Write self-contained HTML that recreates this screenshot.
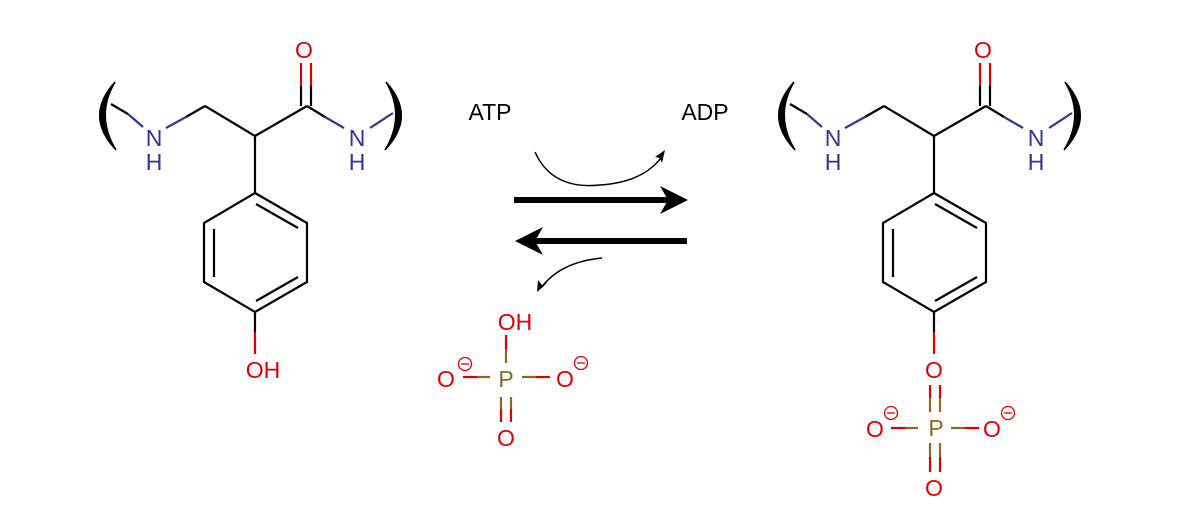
<!DOCTYPE html>
<html><head><meta charset="utf-8"><style>
html,body{margin:0;padding:0;background:#fff;}
svg{display:block;}
text{font-family:"Liberation Sans",Arial,sans-serif;font-size:23px;text-anchor:middle;dominant-baseline:central;}
.b{fill:#333399}.r{fill:#e00000}.p{fill:#8a6a20}.k{fill:#000}
</style></head><body>
<svg width="1185" height="516" viewBox="0 0 1185 516" xmlns="http://www.w3.org/2000/svg">
<defs>
<g id="mol" stroke-width="2.2" fill="none" stroke-linecap="butt">
  <path d="M115,82 Q84,116 116,150 Q95,116 115,82 Z" fill="#000" stroke="#000" stroke-width="1.5"/>
  <path d="M386,82 Q417,116 385,150 Q406,116 386,82 Z" fill="#000" stroke="#000" stroke-width="1.5"/>
  <line x1="111" y1="104" x2="128" y2="114" stroke="#000"/>
  <line x1="128" y1="114" x2="143" y2="127" stroke="#333399"/>
  <line x1="166" y1="128" x2="186" y2="117" stroke="#333399"/>
  <line x1="186" y1="117" x2="205" y2="106" stroke="#000"/>
  <line x1="205" y1="106" x2="255" y2="136" stroke="#000"/>
  <line x1="255" y1="136" x2="307" y2="106" stroke="#000"/>
  <line x1="301" y1="106" x2="301" y2="86" stroke="#000"/>
  <line x1="301" y1="86" x2="301" y2="63" stroke="#e00000"/>
  <line x1="311" y1="106" x2="311" y2="86" stroke="#000"/>
  <line x1="311" y1="86" x2="311" y2="63" stroke="#e00000"/>
  <line x1="307" y1="106" x2="325" y2="117" stroke="#000"/>
  <line x1="325" y1="117" x2="344" y2="128" stroke="#333399"/>
  <line x1="370" y1="128" x2="393" y2="113" stroke="#333399"/>
  <line x1="255" y1="136" x2="255" y2="193" stroke="#000"/>
  <polygon points="255,193 307,223 307,282 255,312 204,282 204,223" stroke="#000"/>
  <line x1="256" y1="204" x2="298" y2="228" stroke="#000"/>
  <line x1="214" y1="229" x2="214" y2="277" stroke="#000"/>
  <line x1="256" y1="301" x2="298" y2="277" stroke="#000"/>
  <line x1="255" y1="312" x2="255" y2="332" stroke="#000"/>
  <line x1="255" y1="332" x2="255" y2="354" stroke="#e00000"/>
</g>
<g id="neg" fill="none" stroke="#e00000" stroke-width="1.3">
  <circle cx="0" cy="0" r="6.5"/>
  <line x1="-4" y1="0" x2="4" y2="0"/>
</g>
</defs>
<use href="#mol"/>
<text x="154" y="138" class="b">N</text>
<text x="154" y="162" class="b">H</text>
<text x="304" y="50" class="r">O</text>
<text x="357" y="138" class="b">N</text>
<text x="357" y="162" class="b">H</text>
<text x="263" y="370" class="r">OH</text>

<use href="#mol" transform="translate(679,0)"/>
<text x="833" y="138" class="b">N</text>
<text x="833" y="162" class="b">H</text>
<text x="983" y="50" class="r">O</text>
<text x="1036" y="138" class="b">N</text>
<text x="1036" y="162" class="b">H</text>
<text x="934" y="370" class="r">O</text>
<g stroke-width="2.2">
  <line x1="930" y1="385" x2="930" y2="398" stroke="#e00000"/>
  <line x1="930" y1="398" x2="930" y2="412" stroke="#8a6a20"/>
  <line x1="940" y1="385" x2="940" y2="398" stroke="#e00000"/>
  <line x1="940" y1="398" x2="940" y2="412" stroke="#8a6a20"/>
  <line x1="891" y1="428" x2="905" y2="428" stroke="#e00000"/>
  <line x1="905" y1="428" x2="918" y2="428" stroke="#8a6a20"/>
  <line x1="951" y1="428" x2="965" y2="428" stroke="#8a6a20"/>
  <line x1="965" y1="428" x2="979" y2="428" stroke="#e00000"/>
  <line x1="930" y1="443" x2="930" y2="457" stroke="#8a6a20"/>
  <line x1="930" y1="457" x2="930" y2="472" stroke="#e00000"/>
  <line x1="940" y1="443" x2="940" y2="457" stroke="#8a6a20"/>
  <line x1="940" y1="457" x2="940" y2="472" stroke="#e00000"/>
</g>
<text x="936" y="428" class="p">P</text>
<text x="875" y="429" class="r">O</text>
<use href="#neg" x="891" y="413"/>
<text x="992" y="429" class="r">O</text>
<use href="#neg" x="1008" y="413"/>
<text x="934" y="488" class="r">O</text>

<text x="490" y="112" class="k">ATP</text>
<text x="705" y="112" class="k">ADP</text>
<g fill="none" stroke="#000" stroke-width="1.5">
  <path d="M535,152 Q552,190 600,185 Q645,182 663,155"/>
  <path d="M602,258 Q560,262 541,288"/>
</g>
<polygon points="665,150 655,157 660,158 662,163" fill="#000"/>
<polygon points="537,292 538,280 542,285 547,283" fill="#000"/>
<line x1="514" y1="200" x2="668" y2="200" stroke="#000" stroke-width="6"/>
<polygon points="688,200 660,186 668,200 660,214" fill="#000"/>
<line x1="535" y1="241" x2="687" y2="241" stroke="#000" stroke-width="6"/>
<polygon points="515,241 543,227 535,241 543,255" fill="#000"/>

<text x="515" y="322" class="r">OH</text>
<g stroke-width="2.2">
  <line x1="506" y1="335" x2="506" y2="349" stroke="#e00000"/>
  <line x1="506" y1="349" x2="506" y2="363" stroke="#8a6a20"/>
  <line x1="463" y1="377" x2="477" y2="377" stroke="#e00000"/>
  <line x1="477" y1="377" x2="490" y2="377" stroke="#8a6a20"/>
  <line x1="522" y1="377" x2="536" y2="377" stroke="#8a6a20"/>
  <line x1="536" y1="377" x2="550" y2="377" stroke="#e00000"/>
  <line x1="501" y1="397" x2="501" y2="409" stroke="#8a6a20"/>
  <line x1="501" y1="409" x2="501" y2="422" stroke="#e00000"/>
  <line x1="511" y1="397" x2="511" y2="409" stroke="#8a6a20"/>
  <line x1="511" y1="409" x2="511" y2="422" stroke="#e00000"/>
</g>
<text x="506" y="379" class="p">P</text>
<text x="446" y="379" class="r">O</text>
<use href="#neg" x="465" y="364"/>
<text x="565" y="379" class="r">O</text>
<use href="#neg" x="581" y="363"/>
<text x="506" y="438" class="r">O</text>
</svg>
</body></html>
